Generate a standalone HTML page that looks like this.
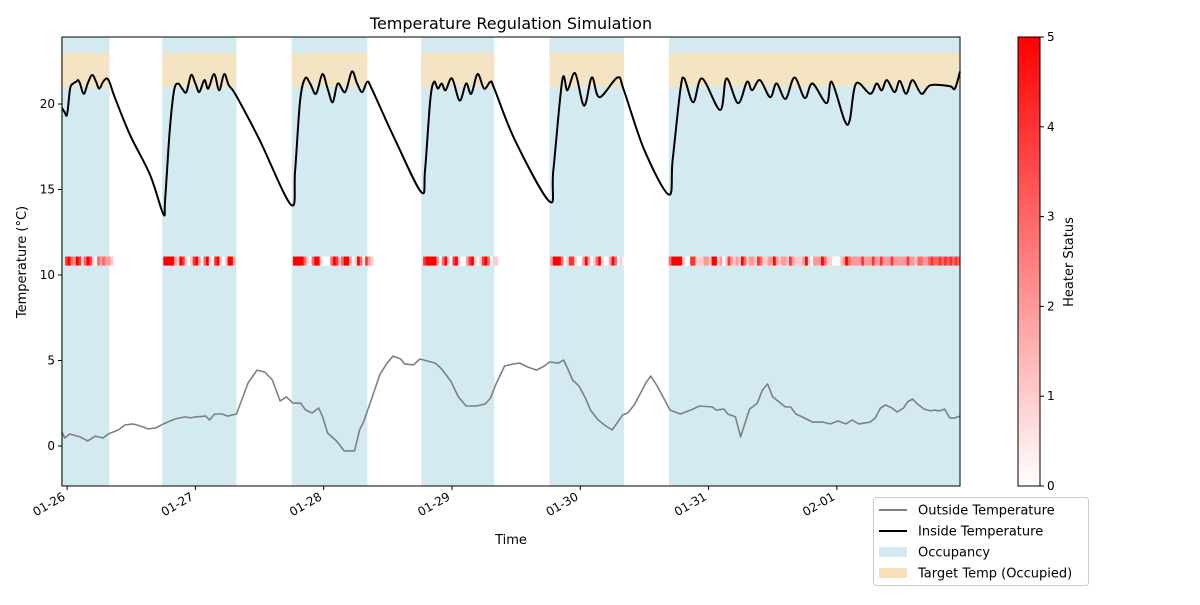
<!DOCTYPE html>
<html><head><meta charset="utf-8"><style>
body{margin:0;background:#fff;font-family:"Liberation Sans","DejaVu Sans",sans-serif}
svg text{font-family:"DejaVu Sans","Liberation Sans",sans-serif;fill:#000}
</style></head><body>
<svg id="chart" width="1200" height="600" xmlns="http://www.w3.org/2000/svg"></svg>
<script>
// ---- data (days since 01-26 00:00) ----
const dayLabels = ["01-26","01-27","01-28","01-29","01-30","01-31","02-01"];
const yTicks = [0,5,10,15,20];
const cbTicks = [0,1,2,3,4,5];
const occStart = [-0.05,0.74,1.75,2.76,3.76,4.69];
const occEnd = [0.33,1.32,2.34,3.33,4.34,6.96];
const targetLow = 21, targetHigh = 23;
const insideT = [[-0.04,19.77],[-0.02,19.53],[0,19.4],[0.023,20.9],[0.047,21.2],[0.07,21.3],[0.086,21.4],[0.1,21.2],[0.13,20.6],[0.16,21.2],[0.195,21.7],[0.226,21.3],[0.25,20.9],[0.28,21.3],[0.31,21.5],[0.335,21.2],[0.366,20.5],[0.49,18.2],[0.647,15.85],[0.75,13.57],[0.764,14.4],[0.8,18.5],[0.834,20.8],[0.865,21.2],[0.896,20.9],[0.93,20.7],[0.966,21.7],[1.0,21.2],[1.03,20.7],[1.07,21.4],[1.1,20.9],[1.146,21.75],[1.185,20.8],[1.224,21.75],[1.26,21.1],[1.317,20.5],[1.5,17.9],[1.746,14.1],[1.777,16.1],[1.816,20.2],[1.855,21.5],[1.894,21.2],[1.94,20.6],[1.99,21.75],[2.03,20.9],[2.07,20.1],[2.11,21.2],[2.167,20.7],[2.22,21.9],[2.26,21.2],[2.3,20.7],[2.34,21.3],[2.38,20.8],[2.557,17.9],[2.76,14.85],[2.79,16.1],[2.83,20.2],[2.86,21.3],[2.89,20.9],[2.92,21.2],[2.95,20.8],[3.0,21.5],[3.06,20.2],[3.11,21.2],[3.15,20.6],[3.2,21.75],[3.25,20.9],[3.3,21.3],[3.33,20.9],[3.49,17.9],[3.76,14.3],[3.79,16.1],[3.86,21.4],[3.9,20.8],[3.96,21.8],[4.03,19.9],[4.09,21.55],[4.15,20.4],[4.29,21.55],[4.34,20.8],[4.5,17.3],[4.69,14.7],[4.72,16.7],[4.78,20.8],[4.81,21.5],[4.88,20.1],[4.95,21.5],[5.09,19.65],[5.14,21.5],[5.23,20.05],[5.3,21.3],[5.34,20.8],[5.4,21.4],[5.48,20.4],[5.53,21.2],[5.6,20.3],[5.67,21.55],[5.75,20.35],[5.81,21.2],[5.92,20.05],[5.96,21.3],[6.06,19.05],[6.1,19.05],[6.15,21.2],[6.26,20.6],[6.31,21.2],[6.35,20.8],[6.39,21.4],[6.45,20.7],[6.49,21.35],[6.54,20.6],[6.59,21.4],[6.66,20.6],[6.73,21.1],[6.88,21.05],[6.92,20.9],[6.96,21.9]];
const outsideT = [[-0.04,0.82],[-0.02,0.47],[0.02,0.7],[0.1,0.53],[0.16,0.3],[0.22,0.58],[0.28,0.47],[0.32,0.7],[0.4,0.94],[0.45,1.23],[0.51,1.29],[0.57,1.17],[0.63,1.0],[0.69,1.05],[0.75,1.29],[0.84,1.58],[0.92,1.7],[0.96,1.64],[1.0,1.7],[1.08,1.75],[1.11,1.52],[1.15,1.87],[1.21,1.87],[1.25,1.75],[1.32,1.87],[1.41,3.68],[1.48,4.44],[1.54,4.33],[1.6,3.86],[1.66,2.63],[1.71,2.87],[1.76,2.51],[1.82,2.51],[1.86,2.1],[1.91,1.93],[1.96,2.22],[1.99,1.75],[2.03,0.76],[2.1,0.29],[2.16,-0.29],[2.24,-0.29],[2.28,0.94],[2.31,1.4],[2.37,2.69],[2.44,4.21],[2.5,4.9],[2.54,5.26],[2.6,5.09],[2.63,4.8],[2.7,4.74],[2.75,5.09],[2.87,4.85],[2.92,4.5],[2.99,3.8],[3.05,2.87],[3.11,2.34],[3.19,2.34],[3.26,2.46],[3.3,2.8],[3.34,3.57],[3.41,4.68],[3.48,4.8],[3.53,4.85],[3.59,4.62],[3.66,4.44],[3.72,4.68],[3.76,4.91],[3.83,4.85],[3.87,5.03],[3.9,4.56],[3.94,3.86],[3.99,3.51],[4.04,2.8],[4.08,2.1],[4.14,1.52],[4.2,1.17],[4.25,0.94],[4.33,1.81],[4.37,1.93],[4.42,2.4],[4.47,3.1],[4.51,3.68],[4.55,4.09],[4.6,3.51],[4.65,2.8],[4.7,2.1],[4.78,1.87],[4.86,2.1],[4.93,2.34],[5.03,2.28],[5.06,2.1],[5.12,2.16],[5.15,1.87],[5.21,1.7],[5.25,0.53],[5.32,2.16],[5.38,2.51],[5.42,3.27],[5.46,3.63],[5.5,2.87],[5.6,2.28],[5.64,2.28],[5.68,1.87],[5.73,1.7],[5.81,1.4],[5.89,1.4],[5.95,1.29],[6.01,1.46],[6.07,1.29],[6.12,1.52],[6.17,1.29],[6.22,1.35],[6.26,1.4],[6.3,1.64],[6.34,2.22],[6.38,2.4],[6.43,2.22],[6.47,1.99],[6.52,2.22],[6.55,2.57],[6.59,2.75],[6.62,2.51],[6.68,2.16],[6.73,2.05],[6.76,2.1],[6.8,2.05],[6.84,2.16],[6.88,1.64],[6.92,1.64],[6.96,1.75]];
const heaterStart = [-0.016,0.75,1.76,2.775,3.765,4.69];
const heater1 = [4,5,3,2,5,4,1,3,5,4,1,0,3,2,3,2,2,1];
const heater2 = [5,5,5,5,2,1,5,4,1,0,1,4,5,2,0,3,5,1,0,4,5,1,0,1,5,5,2,0];
const heater3 = [5,5,5,5,3,1,0,3,5,5,1,0,0,0,3,5,4,1,3,5,5,2,0,1,5,3,0,4,2,1];
const heater4 = [4,5,5,5,5,2,0,3,5,1,0,4,5,1,0,0,2,4,5,1,0,1,4,5,3,0,1,1];
const heater5 = [2,5,5,5,3,0,1,4,4,1,0,0,2,5,2,0,1,3,5,1,0,0,2,5,3,0,1,0];
const heater6 = [3,5,5,5,5,1,0,0,4,4,1,1,1,2,2,1,5,5,1,2,0,1,4,2,1,2,1,5,3,1,2,2,1,4,3,1,1,2,2,5,2,1,2,2,1,4,2,1,1,1,2,5,1,0,2,2,2,5,3,1,1,0,0,0,1,2,5,3,2,2,2,2,4,2,2,2,4,2,2,4,2,2,2,4,2,2,2,2,2,4,2,2,1,3,3,2,2,3,4,3,3,4,3,4,3,4,3,4,3];
const heaterSegs = [heater1,heater2,heater3,heater4,heater5,heater6];
const heaterBin = 1/48, heaterY0 = 10.55, heaterY1 = 11.08;

// ---- scales ----
const PL=62,PR=960,PT=37,PB=486, D0=-0.04, D1=6.96, Y0=-2.34, Y1=23.92;
const sx=d=>PL+(d-D0)/(D1-D0)*(PR-PL);
const sy=t=>PB-(t-Y0)/(Y1-Y0)*(PB-PT);
const svg=document.getElementById('chart');
const NS='http://www.w3.org/2000/svg';
function mk(tag,attrs,parent){const e=document.createElementNS(NS,tag);for(const k in attrs)e.setAttribute(k,attrs[k]);(parent||svg).appendChild(e);return e;}
function txt(s,attrs,parent){const e=mk('text',attrs,parent);e.textContent=s;return e;}
const heatCol=v=>{const f=Math.max(0,Math.min(1,v/5));const g=Math.round(255*(1-f));return `rgb(255,${g},${g})`;};
function smoothPath(a){
  const p=a.map(q=>[sx(q[0]),sy(q[1])]);
  let d='M'+p[0][0].toFixed(1)+','+p[0][1].toFixed(1);
  for(let i=0;i<p.length-1;i++){
    const p0=p[Math.max(0,i-1)],p1=p[i],p2=p[i+1],p3=p[Math.min(p.length-1,i+2)];
    const c1x=p1[0]+(p2[0]-p0[0])/6,c1y=p1[1]+(p2[1]-p0[1])/6;
    const c2x=p2[0]-(p3[0]-p1[0])/6,c2y=p2[1]-(p3[1]-p1[1])/6;
    d+=` C${c1x.toFixed(1)},${c1y.toFixed(1)} ${c2x.toFixed(1)},${c2y.toFixed(1)} ${p2[0].toFixed(1)},${p2[1].toFixed(1)}`;
  }
  return d;
}

const plot=mk('g',{});


occStart.forEach((s,i)=>{
  const r=mk('rect',{x:sx(s),y:PT,width:sx(occEnd[i])-sx(s),height:PB-PT,fill:'#d4eaf1'},plot);
  
  
  const o=mk('rect',{x:sx(s),y:sy(targetHigh),width:sx(occEnd[i])-sx(s),height:sy(targetLow)-sy(targetHigh),fill:'#f5e4c3'},plot);
  
  
});
heaterSegs.forEach((seg,si)=>{
  seg.forEach((v,j)=>{
    const d=heaterStart[si]+j*heaterBin;
    const x0=sx(d), x1=Math.min(sx(d+heaterBin),PR);
    const c=mk('rect',{x:x0,y:sy(heaterY1),width:Math.max(0,x1-x0)+0.4,height:sy(heaterY0)-sy(heaterY1),fill:heatCol(v)},plot);
    
    
  });
});
const pts=a=>a.map(p=>sx(p[0]).toFixed(1)+','+sy(p[1]).toFixed(1)).join(' ');
const lo=mk('polyline',{points:pts(outsideT),fill:'none',stroke:'#808080','stroke-width':1.6,'stroke-linejoin':'round'},plot);


const li=mk('path',{d:smoothPath(insideT),fill:'none',stroke:'#000','stroke-width':2,'stroke-linejoin':'round'},plot);


const fr=mk('rect',{x:PL,y:PT,width:PR-PL,height:PB-PT,fill:'none',stroke:'#000','stroke-width':1});



yTicks.forEach(t=>{
  mk('line',{x1:PL-4,x2:PL,y1:sy(t),y2:sy(t),stroke:'#000'});
  const l=txt(String(t),{x:PL-7,y:sy(t)+4,'text-anchor':'end','font-size':12});
  
  
});
dayLabels.forEach((s,i)=>{
  const x=sx(i);
  mk('line',{x1:x,x2:x,y1:PB,y2:PB+4,stroke:'#000'});
  const l=txt(s,{x:x-1,y:PB+13,'text-anchor':'end','font-size':12,transform:`rotate(-30 ${x-1} ${PB+13})`});
  
  
});
const t1=txt('Temperature Regulation Simulation',{x:511,y:29,'text-anchor':'middle','font-size':16});


const xt=txt('Time',{x:511,y:544,'text-anchor':'middle','font-size':13});


const yt=txt('Temperature (°C)',{x:26,y:262,'text-anchor':'middle','font-size':13,transform:'rotate(-90 26 262)'});



// colorbar
const defs=mk('defs',{});
const gr=mk('linearGradient',{id:'cbg',x1:0,y1:1,x2:0,y2:0},defs);
mk('stop',{offset:0,'stop-color':'#fff'},gr);mk('stop',{offset:1,'stop-color':'#f00'},gr);
const CX=1018,CW=22;
const cb=mk('rect',{x:CX,y:PT,width:CW,height:PB-PT,fill:'url(#cbg)',stroke:'#000','stroke-width':1});


cbTicks.forEach(v=>{
  const y=PB-v/5*(PB-PT);
  mk('line',{x1:CX+CW,x2:CX+CW+4,y1:y,y2:y,stroke:'#000'});
  const l=txt(String(v),{x:CX+CW+7,y:y+4,'font-size':12});
  
  
});
const ct=txt('Heater Status',{x:1073,y:262,'text-anchor':'middle','font-size':13,transform:'rotate(-90 1073 262)'});



// legend
const lg=mk('g',{});


mk('rect',{x:873.5,y:497.5,width:215,height:88,rx:3,fill:'#fff',stroke:'#ccc'},lg);
const items=[['Outside Temperature','line','#808080'],['Inside Temperature','line','#000'],['Occupancy','patch','#d4eaf1'],['Target Temp (Occupied)','patch','#f9e0bb']];
items.forEach((it,i)=>{
  const y=510+i*21;
  const g=mk('g',{},lg);
  
  
  if(it[1]==='line') mk('line',{x1:879,x2:907,y1:y,y2:y,stroke:it[2],'stroke-width':2},g);
  else mk('rect',{x:879,y:y-5,width:28,height:10,fill:it[2]},g);
  txt(it[0],{x:918,y:y+4.5,'font-size':13},g);
});
</script>
</body></html>
